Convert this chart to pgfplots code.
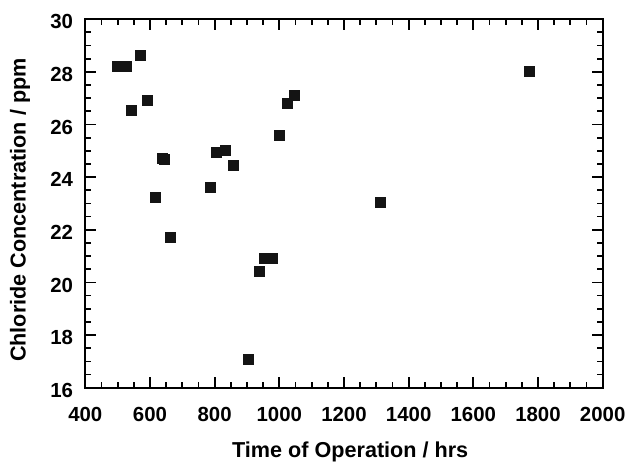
\documentclass[border=0pt]{standalone}
\usepackage{fontspec}
\setmainfont{Liberation Sans}
\usepackage{pgfplots}
\pgfplotsset{compat=1.18}
\definecolor{markblack}{RGB}{20,20,20}

\pgfplotstableread{
hrs   ppm
501   28.21
526   28.21
570   28.61
593   26.91
544   26.52
640   24.72
644   24.68
616   23.22
662   21.69
786   23.62
807   24.92
832   25.00
857   24.43
999   25.60
1024  26.80
1048  27.12
953   20.90
979   20.90
940   20.40
904   17.09
1314  23.03
1775  28.03
}\chloride

\begin{document}
\begin{tikzpicture}
\useasboundingbox (-64pt,-56.5pt) rectangle (407pt,290.8pt);
\begin{axis}[
    at={(0,0)}, anchor=south west,
    scale only axis,
    width=388pt, height=276.4pt,
    xmin=400, xmax=2000,
    ymin=16, ymax=30,
    xtick={400,600,...,2000},
    ytick={16,18,...,30},
    minor x tick num=3,
    minor y tick num=3,
    tick align=inside,
    axis line style={line width=1.7pt},
    major tick length=8pt,
    minor tick length=4.3pt,
    every tick/.style={black, line width=1.3pt},
    /pgf/number format/assume math mode=true,
    /pgf/number format/1000 sep={},
    tick label style={font=\fontsize{15.3}{18}\selectfont\bfseries},
    xticklabel style={anchor=base, yshift=-25pt},
    yticklabel style={anchor=east, inner sep=0pt, xshift=-9pt, yshift=-2pt},
    label style={font=\fontsize{16.2}{19}\selectfont\bfseries},
    xlabel={Time of Operation / hrs},
    ylabel={Chloride Concentration / ppm},
    xlabel style={at={(axis description cs:0.512,-0.189)}, anchor=base},
    ylabel style={at={(axis description cs:-0.126,0.482)}, anchor=center},
]
\addplot[only marks, mark=square*, mark size=3.75pt,
         mark options={fill=markblack, draw=markblack, line width=0pt}]
    table[x=hrs, y=ppm] {\chloride};
\end{axis}
\end{tikzpicture}
\end{document}
